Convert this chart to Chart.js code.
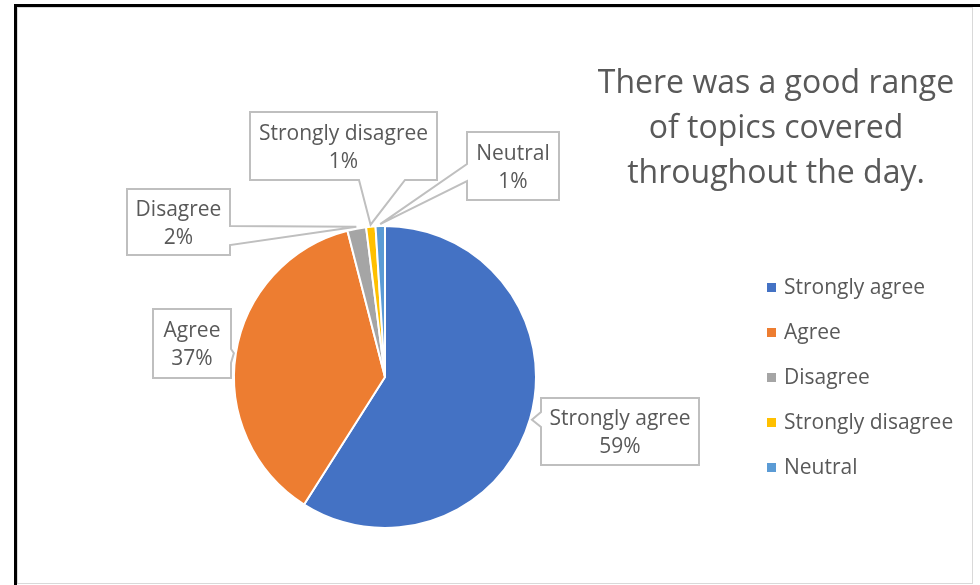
<!DOCTYPE html>
<html>
<head>
<meta charset="utf-8">
<script src="https://cdn.jsdelivr.net/npm/chart.js@4.4.1/dist/chart.umd.min.js"></script>
<style>
    html, body { margin: 0; padding: 0; background: #fff; }
    body { width: 980px; height: 585px; position: relative; overflow: hidden; }
    .outer { position: absolute; left: 14px; top: 4px; width: 980px; height: 600px;
             border-left: 3px solid #000; border-top: 3px solid #000; }
    .inner { position: absolute; left: 17px; top: 7px; width: 954px; height: 575px;
             border: 1px solid #d9d9d9; }
    #chart { position: absolute; left: 0; top: 0; }
</style>
</head>
<body>
<div class="outer"></div>
<div class="inner"></div>
<canvas id="chart" width="980" height="585"></canvas>
<script>
(function() {
    'use strict';

    // Chart data
    var categories = ['Strongly agree', 'Agree', 'Disagree', 'Strongly disagree', 'Neutral'];
    var shares = [59, 37, 2, 1, 1];
    var sliceColours = ['#4472C4', '#ED7D31', '#A5A5A5', '#FFC000', '#5B9BD5'];
    var titleLines = ['There was a good range', 'of topics covered', 'throughout the day.'];

    var textColour = '#595959';
    var fontFamily = '"Open Sans", Lato, sans-serif';

    // Callout boxes: box rect, which side the pointer leaves from, and the pointer base span
    var calloutLayout = [
        { x: 541, y: 398, w: 158, h: 67, side: 'left',   a: 412, b: 427 },
        { x: 153, y: 309, w: 78,  h: 69, side: 'right',  a: 349, b: 363 },
        { x: 127, y: 189, w: 103, h: 66, side: 'right',  a: 226, b: 245 },
        { x: 250, y: 112, w: 187, h: 68, side: 'bottom', a: 359, b: 405 },
        { x: 467, y: 132, w: 92,  h: 68, side: 'left',   a: 164, b: 181 }
    ];

    var total = shares.reduce(function(s, v) { return s + v; }, 0);

    function calloutPath(ctx, box, tip) {
        var l = box.x, t = box.y, r = box.x + box.w, btm = box.y + box.h;
        ctx.beginPath();
        ctx.moveTo(l, t);
        ctx.lineTo(r, t);
        if (box.side === 'right') {
            ctx.lineTo(r, box.a);
            ctx.lineTo(tip.x, tip.y);
            ctx.lineTo(r, box.b);
        }
        ctx.lineTo(r, btm);
        if (box.side === 'bottom') {
            ctx.lineTo(box.b, btm);
            ctx.lineTo(tip.x, tip.y);
            ctx.lineTo(box.a, btm);
        }
        ctx.lineTo(l, btm);
        if (box.side === 'left') {
            ctx.lineTo(l, box.b);
            ctx.lineTo(tip.x, tip.y);
            ctx.lineTo(l, box.a);
        }
        ctx.closePath();
    }

    var calloutPlugin = {
        id: 'callouts',
        afterDraw: function(chart) {
            var ctx = chart.ctx;
            var meta = chart.getDatasetMeta(0);
            ctx.save();
            meta.data.forEach(function(arc, i) {
                var box = calloutLayout[i];
                var mid = (arc.startAngle + arc.endAngle) / 2;
                var rr = arc.outerRadius + 2;
                var tip = { x: arc.x + Math.cos(mid) * rr, y: arc.y + Math.sin(mid) * rr };

                calloutPath(ctx, box, tip);
                ctx.fillStyle = '#ffffff';
                ctx.fill();
                ctx.lineWidth = 2;
                ctx.strokeStyle = '#bfbfbf';
                ctx.lineJoin = 'miter';
                ctx.stroke();

                var cx = box.x + box.w / 2;
                var cy = box.y + box.h / 2;
                ctx.fillStyle = textColour;
                ctx.font = '21px ' + fontFamily;
                ctx.textAlign = 'center';
                ctx.textBaseline = 'middle';
                ctx.fillText(categories[i], cx, cy - 12);
                ctx.fillText(Math.round(shares[i] / total * 100) + '%', cx, cy + 16);
            });

            // Title
            ctx.font = '32px ' + fontFamily;
            ctx.textAlign = 'center';
            ctx.textBaseline = 'middle';
            ctx.fillStyle = textColour;
            titleLines.forEach(function(line, i) {
                ctx.fillText(line, 776, 84 + i * 45);
            });

            // Legend
            ctx.font = '21px ' + fontFamily;
            ctx.textAlign = 'left';
            categories.forEach(function(name, i) {
                var y = 287 + i * 45;
                ctx.fillStyle = sliceColours[i];
                ctx.fillRect(767, y - 4, 9, 9);
                ctx.fillStyle = textColour;
                ctx.fillText(name, 784, y + 1);
            });
            ctx.restore();
        }
    };

    new Chart(document.getElementById('chart'), {
        type: 'pie',
        data: {
            labels: categories,
            datasets: [{
                data: shares,
                backgroundColor: sliceColours,
                borderColor: '#ffffff',
                borderWidth: 2
            }]
        },
        options: {
            responsive: false,
            animation: false,
            layout: { padding: { left: 233, right: 443, top: 225, bottom: 56 } },
            plugins: {
                legend: { display: false },
                tooltip: { enabled: false },
                title: { display: false }
            }
        },
        plugins: [calloutPlugin]
    });
})();
</script>
</body>
</html>
